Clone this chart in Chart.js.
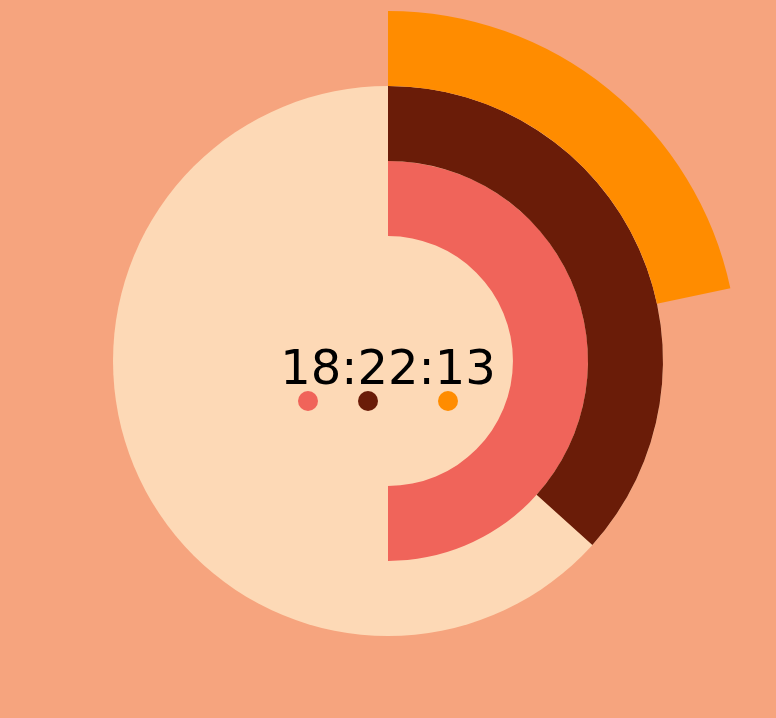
<!DOCTYPE html>
<html>
<head>
<meta charset="utf-8">
<script src="https://cdn.jsdelivr.net/npm/chart.js@4"></script>
<style>
html,body{margin:0;padding:0;background:#F6A47E;}
#wrap{width:776px;height:718px;position:relative;}
</style>
</head>
<body>
<div id="wrap"><canvas id="c" width="776" height="718"></canvas></div>
<script>
// time shown
const timeLabel = "18:22:13";
const ringNames = ["seconds", "minutes", "hours"];
// each ring: [elapsed, remaining]
const secondsData = [13, 47];
const minutesData = [22, 38];
const hoursData = [6, 6];
const ringColors = ["#FF8C00", "#6A1C08", "#F0645A"];
const faceColor = "#FDD9B6";
// legend dot offsets order: hours, minutes, seconds
const dotOrder = [2, 1, 0];

const facePlugin = {
  id: 'face',
  beforeDatasetsDraw(chart) {
    const arc = chart.getDatasetMeta(1).data[0];
    const ctx = chart.ctx;
    ctx.save();
    ctx.beginPath();
    ctx.arc(arc.x, arc.y, arc.outerRadius, 0, Math.PI * 2);
    ctx.fillStyle = faceColor;
    ctx.fill();
    ctx.restore();
  },
  afterDatasetsDraw(chart) {
    const arc = chart.getDatasetMeta(1).data[0];
    const ctx = chart.ctx;
    ctx.save();
    ctx.font = '48px "DejaVu Sans"';
    ctx.fillStyle = '#000';
    ctx.textAlign = 'center';
    ctx.textBaseline = 'alphabetic';
    ctx.fillText(timeLabel, arc.x, arc.y + 23);
    const offs = [-80, -20, 60];
    dotOrder.forEach((di, i) => {
      ctx.beginPath();
      ctx.arc(arc.x + offs[i], arc.y + 40, 10, 0, Math.PI * 2);
      ctx.fillStyle = ringColors[di];
      ctx.fill();
    });
    ctx.restore();
  }
};

new Chart(document.getElementById('c'), {
  type: 'doughnut',
  data: {
    labels: ['elapsed', 'remaining'],
    datasets: [
      { label: ringNames[0], data: secondsData, backgroundColor: [ringColors[0], 'rgba(0,0,0,0)'], borderWidth: 0 },
      { label: ringNames[1], data: minutesData, backgroundColor: [ringColors[1], 'rgba(0,0,0,0)'], borderWidth: 0 },
      { label: ringNames[2], data: hoursData, backgroundColor: [ringColors[2], 'rgba(0,0,0,0)'], borderWidth: 0 }
    ]
  },
  options: {
    responsive: false,
    animation: false,
    cutout: '35.7%',
    layout: { padding: { top: 11, bottom: 7, left: 0, right: 0 } },
    plugins: { legend: { display: false }, tooltip: { enabled: false } }
  },
  plugins: [facePlugin]
});
</script>
</body>
</html>
